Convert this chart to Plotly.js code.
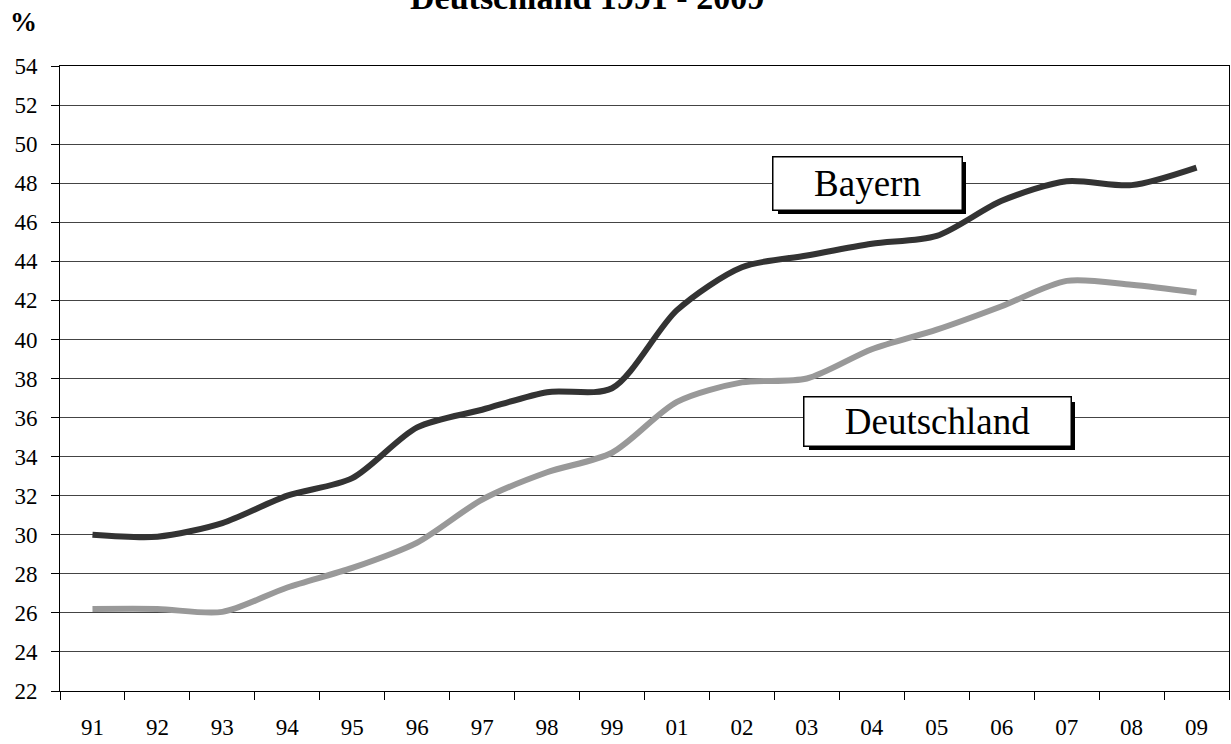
<!DOCTYPE html>
<html>
<head>
<meta charset="utf-8">
<script src="https://cdn.plot.ly/plotly-3.0.1.min.js"></script>
<style>html,body{margin:0;padding:0;background:#fff;}#chart{width:1231px;height:744px;}</style>
</head>
<body>
<div id="chart"></div>
<script>
var years = ["91","92","93","94","95","96","97","98","99","01","02","03","04","05","06","07","08","09"];
var bayern = [30.0,29.9,30.6,32.0,32.9,35.5,36.4,37.3,37.5,41.5,43.7,44.3,44.9,45.3,47.1,48.1,47.9,48.8];
var deutschland = [26.2,26.2,26.05,27.3,28.3,29.6,31.8,33.2,34.2,36.8,37.8,38.0,39.5,40.5,41.7,43.0,42.8,42.4];
var yTicks = [22,24,26,28,30,32,34,36,38,40,42,44,46,48,50,52,54];

var serif = "'Liberation Serif', 'Times New Roman', Times, serif";

var traces = [
  {x: years, y: bayern, type: "scatter", mode: "lines", name: "Bayern",
   line: {color: "#333333", width: 6, shape: "spline", smoothing: 0.8}},
  {x: years, y: deutschland, type: "scatter", mode: "lines", name: "Deutschland",
   line: {color: "#999999", width: 6, shape: "spline", smoothing: 0.8}}
];

function box(text, xi, yv, w, h) {
  return [
    {x: xi, y: yv, xref: "x", yref: "y", text: " ", showarrow: false,
     width: w, height: h, bgcolor: "#000", xshift: 5, yshift: -5, borderpad: 0, borderwidth: 0},
    {x: xi, y: yv, xref: "x", yref: "y", text: text, showarrow: false,
     width: w, height: h, bgcolor: "#fff", bordercolor: "#000", borderwidth: 1.5, borderpad: 0,
     font: {family: serif, size: 37, color: "#000"}}
  ];
}

var annotations = [].concat(
  box("Bayern", 11.93, 48.0, 188, 52),
  box("Deutschland", 13.01, 35.8, 266, 48),
  [
    {xref: "paper", yref: "paper", x: 0.4505, y: 1.110, xanchor: "center", yanchor: "middle",
     text: "<b>Deutschland 1991 - 2009</b>", showarrow: false,
     font: {family: serif, size: 34, color: "#000"}},
    {xref: "paper", yref: "paper", x: -0.031, y: 1.070, xanchor: "center", yanchor: "middle",
     text: "<b>%</b>", showarrow: false,
     font: {family: serif, size: 27, color: "#000"}}
  ]
);

var layout = {
  width: 1231, height: 744,
  margin: {l: 60, r: 2, t: 66, b: 53},
  paper_bgcolor: "#fff", plot_bgcolor: "#fff",
  font: {family: serif, color: "#000"},
  showlegend: false,
  xaxis: {
    type: "category", categoryorder: "array", categoryarray: years,
    range: [-0.5, 17.5], tickson: "boundaries", ticks: "outside", ticklen: 8,
    tickcolor: "#000", tickwidth: 1, showgrid: false, showline: true, linecolor: "#000",
    linewidth: 1, mirror: true, zeroline: false, ticklabelstandoff: 15,
    tickfont: {family: serif, size: 23, color: "#000"}
  },
  yaxis: {
    range: [22, 54], tickvals: yTicks, ticktext: yTicks.map(String),
    ticks: "outside", ticklen: 8, tickcolor: "#000", tickwidth: 1,
    showgrid: true, gridcolor: "#444", gridwidth: 1,
    showline: true, linecolor: "#000", linewidth: 1, mirror: true, zeroline: false,
    ticklabelstandoff: 9,
    tickfont: {family: serif, size: 23, color: "#000"}
  },
  annotations: annotations
};

Plotly.newPlot("chart", traces, layout, {staticPlot: true, displayModeBar: false});
</script>
</body>
</html>
